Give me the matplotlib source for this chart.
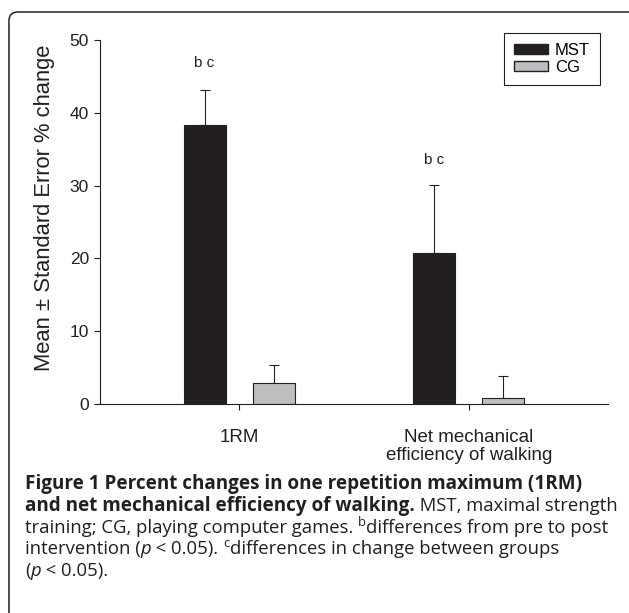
import matplotlib
matplotlib.use('Agg')
import matplotlib.pyplot as plt
from matplotlib.patches import FancyBboxPatch, Patch

groups = ['1RM', 'Net mechanical\nefficiency of walking']
mst_mean = [38.3, 20.8]
mst_se = [4.9, 9.3]
cg_mean = [2.9, 0.8]
cg_se = [2.5, 3.0]
sig_labels = ['b c', 'b c']
sig_y = [46.8, 33.5]

W, H = 629, 613
fig = plt.figure(figsize=(W / 100, H / 100), dpi=100)
plt.rcParams['font.family'] = ['Liberation Sans', 'DejaVu Sans']

# rounded panel border, running off right and bottom edges
border = FancyBboxPatch((9 / W, -20 / H), (W + 10) / W, (H + 20 - 12) / H,
                        boxstyle='round,pad=0,rounding_size=0.014',
                        transform=fig.transFigure, fill=False,
                        edgecolor='#231f20', linewidth=1.1)
fig.patches.append(border)

ax = fig.add_axes([100 / W, 1 - 404 / H, 508 / W, 364 / H])
x = range(len(groups))
off = 0.15
bw = 0.183
xm = [i - off for i in x]
xc = [i + off for i in x]
ax.bar(xm, mst_mean, bw, color='#231f20', edgecolor='#231f20', linewidth=0.8, label='MST', zorder=2)
ax.bar(xc, cg_mean, bw, color='#bcbec0', edgecolor='#231f20', linewidth=0.8, label='CG', zorder=2)
ax.errorbar(xm, mst_mean, yerr=[[0] * 2, mst_se], fmt='none', ecolor='#231f20',
            elinewidth=0.8, capsize=3.6, capthick=0.8, zorder=1)
ax.errorbar(xc, cg_mean, yerr=[[0] * 2, cg_se], fmt='none', ecolor='#231f20',
            elinewidth=0.8, capsize=3.6, capthick=0.8, zorder=1)
for i in x:
    ax.text(xm[i], sig_y[i], sig_labels[i], ha='center', va='center', fontsize=11, color='#231f20')

ax.set_xlim(-0.605, 1.605)
ax.set_ylim(0, 50)
ax.set_yticks([0, 10, 20, 30, 40, 50])
ax.set_xticks(list(x))
ax.set_xticklabels(groups, fontsize=13.5, linespacing=1.05)
ax.tick_params(axis='y', labelsize=12.5, length=4.5, width=0.8, colors='#231f20')
ax.tick_params(axis='x', length=4, width=0.8, pad=14, colors='#231f20')
for s in ['top', 'right']:
    ax.spines[s].set_visible(False)
for s in ['left', 'bottom']:
    ax.spines[s].set_linewidth(0.8)
    ax.spines[s].set_color('#231f20')
ax.set_ylabel('Mean \u00b1 Standard Error % change', fontsize=15.8, color='#231f20')
ax.yaxis.set_label_coords(-0.088, 0.54)

leg = ax.legend(handles=[Patch(facecolor='#231f20', edgecolor='#231f20', label='MST'),
                         Patch(facecolor='#bcbec0', edgecolor='#231f20', label='CG')],
                loc='upper right', bbox_to_anchor=(600 / W, 1 - 33 / H),
                bbox_transform=fig.transFigure, fancybox=False, framealpha=1,
                edgecolor='#231f20', fontsize=12, handlelength=2.05, handleheight=0.6,
                handletextpad=0.42, borderpad=0.6, labelspacing=0.12, borderaxespad=0)
leg.get_frame().set_linewidth(0.8)

# caption, drawn segment by segment
cap_font = ['Open Sans', 'DejaVu Sans']
bold_size = 13.6
norm_size = 13.3
lines = [
    [('Figure 1 Percent changes in one repetition maximum (1RM)', 'bold', 'normal', False)],
    [('and net mechanical efficiency of walking.', 'bold', 'normal', False),
     (' MST, maximal strength', 'normal', 'normal', False)],
    [('training; CG, playing computer games. ', 'normal', 'normal', False),
     ('b', 'normal', 'normal', True),
     ('differences from pre to post', 'normal', 'normal', False)],
    [('intervention (', 'normal', 'normal', False),
     ('p', 'normal', 'italic', False),
     (' < 0.05). ', 'normal', 'normal', False),
     ('c', 'normal', 'normal', True),
     ('differences in change between groups', 'normal', 'normal', False)],
    [('(', 'normal', 'normal', False),
     ('p', 'normal', 'italic', False),
     (' < 0.05).', 'normal', 'normal', False)],
]
line_y = [489, 511, 533, 554, 576]
renderer = fig.canvas.get_renderer()
for ln, yy in zip(lines, line_y):
    xp = 25
    for txt, wt, st, sup in ln:
        size = bold_size if wt == 'bold' else norm_size
        if sup:
            size *= 0.7
        ypix = yy - 7 if sup else yy
        t = fig.text(xp / W, 1 - ypix / H, txt, fontsize=size, fontweight=wt, fontstyle=st,
                     family=cap_font, color='#231f20', va='baseline', ha='left')
        bb = t.get_window_extent(renderer)
        xp += bb.width

fig.savefig('out.png', dpi=100)
